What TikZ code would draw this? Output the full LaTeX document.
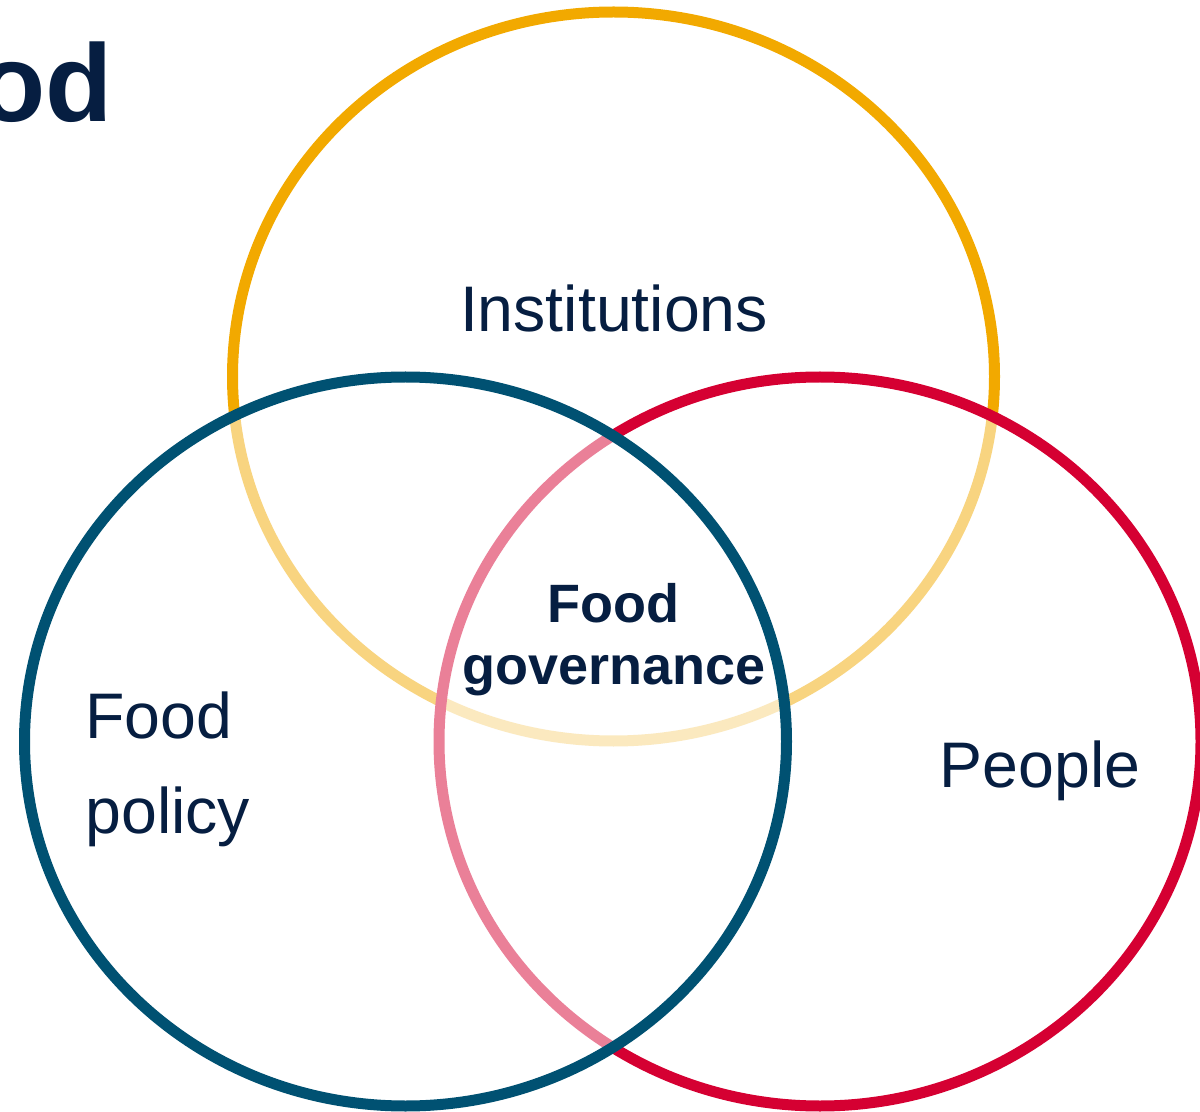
\documentclass[tikz,border=0pt]{standalone}
\usepackage{fontspec}
\setmainfont{Liberation Sans}
\usetikzlibrary{shapes.geometric}
\definecolor{gold}{HTML}{F2A900}
\definecolor{petrol}{HTML}{005172}
\definecolor{crimson}{HTML}{D50032}
\definecolor{navy}{HTML}{061E41}
\tikzset{ring/.style={ellipse, line width=5.5pt, fill=white, fill opacity=0.5,
    minimum width=381pt, minimum height=364.5pt, inner sep=0pt}}
\tikzset{word/.style={inner sep=0pt, font=\fontsize{32.2}{40}\selectfont}}

\begin{document}
\begin{tikzpicture}[
            x = 0.5pt, y = -0.5pt,
            every node/.style={text=navy}
        ]
            \useasboundingbox (0,0) rectangle (1200,1112);
            \clip (0,0) rectangle (1200,1112);

            % the three sets, bottom to top
            \node[ring, draw=gold] (inst) at (613.5,376.5) {};
            \node[ring, draw=crimson] (people) at (820,741.5) {};
            \node[ring, draw=petrol] (policy) at (405.5,741.5) {};

            % title, cut off at the left edge
            \node[anchor=base east, inner sep=0pt, font=\fontsize{55}{60}\selectfont\bfseries] (title) at (113,122) {od};

            \node[word, anchor=base] (instlbl) at (614,332) {Institutions};
            \node[word, anchor=base] (peoplelbl) at (1040,787) {People};
            \node[word, anchor=base west] (policylbl1) at (85,738) {Food};
            \node[word, anchor=base west] (policylbl2) at (85,833) {policy};

            \node[word, anchor=base, font=\fontsize{27}{32}\selectfont\bfseries] (govlbl1) at (613,622) {Food};
            \node[word, anchor=base, font=\fontsize{27}{32}\selectfont\bfseries] (govlbl2) at (614,684) {governance};
        \end{tikzpicture}
\end{document}
